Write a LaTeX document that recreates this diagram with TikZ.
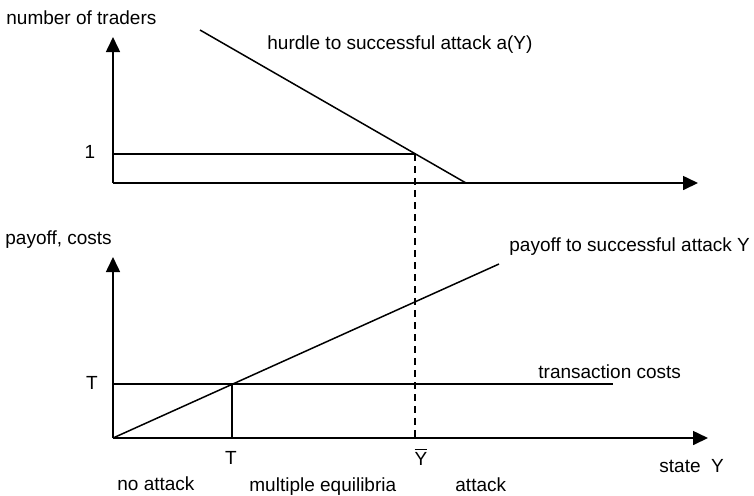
\documentclass[tikz,border=0pt]{standalone}
\usepackage{fontspec}
\setmainfont{Liberation Sans}
\usetikzlibrary{arrows.meta}
\tikzset{
    lbl/.style={inner sep=0pt, font=\fontsize{9.5}{11}\selectfont},
    curve/.style={line width=0.75pt},
    axis/.style={line width=0.8pt, -{Triangle[width=7pt,length=7.5pt]}},
}
\begin{document}
\begin{tikzpicture}[x=0.5pt, y=-0.5pt]
    \useasboundingbox (0, 0) rectangle (754, 495);
    % upper panel: number of traders
    \coordinate (o1) at (113, 183);
    \coordinate (ytop1) at (113, 37);
    \coordinate (xtop1) at (698, 183);
    \coordinate (one) at (113, 154);
    \coordinate (ybar1) at (415, 154);
    \coordinate (hstart) at (200, 30);
    \coordinate (hend) at (466, 183);
    \draw[axis] (o1) -- (ytop1);
    \draw[axis] (o1) -- (xtop1);
    \draw[curve] (one) -- (ybar1);
    \draw[curve] (hstart) -- (hend);
    \node[lbl, anchor=base west] (ntrad) at (6, 24) {number of traders};
    \node[lbl, anchor=base west] (hurdle) at (267, 49) {hurdle to successful attack a(Y)};
    \node[lbl, anchor=base] (lone) at (90, 158) {1};
    % lower panel: payoff, costs
    \coordinate (o2) at (113, 438);
    \coordinate (ytop2) at (113, 257);
    \coordinate (xtop2) at (708, 438);
    \coordinate (tleft) at (113, 384);
    \coordinate (tright) at (613, 384);
    \coordinate (tcross) at (232, 384);
    \coordinate (tfoot) at (232, 438);
    \coordinate (pend) at (499, 264);
    \coordinate (ybar2) at (415, 438);
    \draw[axis] (o2) -- (ytop2);
    \draw[axis] (o2) -- (xtop2);
    \draw[curve] (tleft) -- (tright);
    \draw[curve] (o2) -- (pend);
    \draw[curve] (tcross) -- (tfoot);
    \draw[curve, dash pattern=on 3.5pt off 2.5pt] (ybar1) -- (ybar2);
    \node[lbl, anchor=base west] (pcosts) at (5, 244) {payoff, costs};
    \node[lbl, anchor=base west] (payoff) at (509, 251) {payoff to successful attack Y};
    \node[lbl, anchor=base west] (tcosts) at (538, 378) {transaction costs};
    \node[lbl, anchor=base] (tlab) at (92, 389) {T};
    \node[lbl, anchor=base] (tbot) at (231, 464) {T};
    \node[lbl, anchor=base] (ybarlab) at (421, 465) {$\overline{\mbox{Y}}$};
    \node[lbl, anchor=base west] (state) at (659, 472) {state\ \ Y};
    \node[lbl, anchor=base west] (noatt) at (117, 490) {no attack};
    \node[lbl, anchor=base west] (multi) at (249, 491) {multiple equilibria};
    \node[lbl, anchor=base west] (att) at (455, 491) {attack};
\end{tikzpicture}
\end{document}
